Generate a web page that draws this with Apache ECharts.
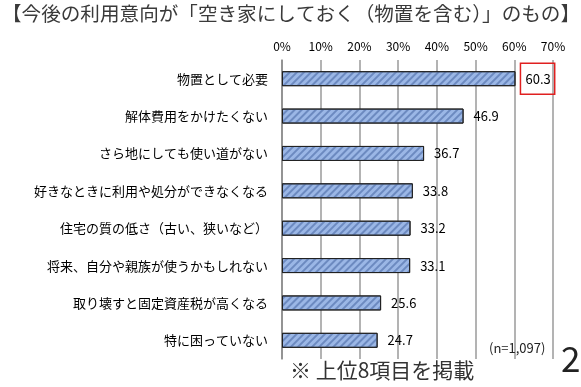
<!DOCTYPE html>
<html><head><meta charset="utf-8">
<script src="https://cdn.jsdelivr.net/npm/echarts@6/dist/echarts.min.js"></script>
<style>html,body{margin:0;padding:0;background:#fff}#c{width:581px;height:387px}</style>
</head><body><div id="c"></div>
<script>
const categories = ['物置として必要','解体費用をかけたくない','さら地にしても使い道がない','好きなときに利用や処分ができなくなる','住宅の質の低さ（古い、狭いなど）','将来、自分や親族が使うかもしれない','取り壊すと固定資産税が高くなる','特に困っていない'];
const values = [60.3, 46.9, 36.7, 33.8, 33.2, 33.1, 25.6, 24.7];
const tickMax = 70, tickStep = 10;
const titleText = '【今後の利用意向が「空き家にしておく（物置を含む）」のもの】';
const noteText = '※ 上位8項目を掲載';
const nText = '(n=1,097)';
const pageNo = '2';

const font = '"Noto Sans CJK JP", "Noto Sans", sans-serif';
const chart = echarts.init(document.getElementById('c'));
chart.setOption({
  animation: false,
  textStyle: {fontFamily: font},
  grid: {left: 282, right: 28, top: 60, bottom: 28, containLabel: false},
  title: [
    {text: titleText, left: -3, top: -1, textStyle: {fontFamily: font, fontSize: 19.6, fontWeight: 'normal', color: '#3a3a3a'}},
    {text: noteText, left: 285, top: 355, textStyle: {fontFamily: font, fontSize: 21, fontWeight: 'normal', color: '#333'}},
    {text: nText, left: 484, top: 337, textStyle: {fontFamily: font, fontSize: 13, fontWeight: 'normal', color: '#222'}},
    {text: pageNo, left: 556, top: 336, textStyle: {fontFamily: font, fontSize: 35, fontWeight: 'normal', color: '#222'}}
  ],
  xAxis: {
    type: 'value', position: 'top', min: 0, max: tickMax, interval: tickStep,
    axisLine: {show: false}, axisTick: {show: false},
    axisLabel: {formatter: '{value}%', color: '#000', fontSize: 12, margin: 8, fontFamily: font},
    splitLine: {lineStyle: {color: '#9a9a9a', width: 1.5}}
  },
  yAxis: {
    type: 'category', data: categories, inverse: true,
    axisLine: {lineStyle: {color: '#8a8a8a', width: 1.5}},
    axisTick: {length: 4, lineStyle: {color: '#8a8a8a'}},
    axisLabel: {color: '#000', fontSize: 13, margin: 14, fontFamily: font}
  },
  series: [{
    type: 'bar', barWidth: 15,
    data: values.map((v, i) => i === 0 ? {
      value: v,
      label: {borderColor: '#e02020', borderWidth: 1.5, padding: [9, 4, 9, 5], distance: 5}
    } : v),
    itemStyle: {
      color: '#9bb7e6', borderColor: '#222', borderWidth: 1,
      decal: {symbol: 'rect', color: 'rgba(70,100,160,0.55)', dashArrayX: [1, 0], dashArrayY: [1.5, 2.5], rotation: -Math.PI / 4, symbolSize: 1}
    },
    label: {show: true, position: 'right', distance: 10, color: '#000', fontSize: 13, fontFamily: font}
  }]
});
</script></body></html>
